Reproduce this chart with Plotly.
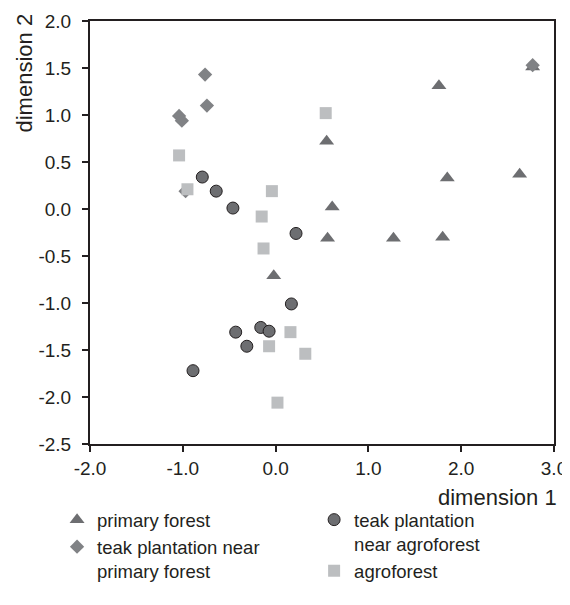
import plotly.graph_objects as go

# ---- data ----
primary_x = [1.76, 0.55, 1.85, 2.63, 0.61, 0.56, 1.27, 1.80, 2.77, -0.02]
primary_y = [1.31, 0.72, 0.33, 0.37, 0.02, -0.31, -0.31, -0.30, 1.51, -0.71]

teak_pf_x = [-0.76, -0.74, -1.04, -1.01, -0.97, 2.77]
teak_pf_y = [1.43, 1.10, 0.99, 0.94, 0.19, 1.53]

teak_af_x = [-0.79, -0.64, -0.46, 0.22, 0.17, -0.43, -0.31, -0.16, -0.07, -0.89]
teak_af_y = [0.34, 0.19, 0.01, -0.26, -1.01, -1.31, -1.46, -1.26, -1.30, -1.72]

agro_x = [-1.04, -0.95, -0.04, -0.15, -0.13, 0.54, 0.16, -0.07, 0.02, 0.32]
agro_y = [0.57, 0.21, 0.19, -0.08, -0.42, 1.02, -1.31, -1.46, -2.06, -1.54]

x_ticks = [-2.0, -1.0, 0.0, 1.0, 2.0, 3.0]
x_ticktext = ["-2.0", "-1.0", "0.0", "1.0", "2.0", "3.0"]
y_ticks = [-2.5, -2.0, -1.5, -1.0, -0.5, 0.0, 0.5, 1.0, 1.5, 2.0]
y_ticktext = ["-2.5", "-2.0", "-1.5", "-1.0", "-0.5", "0.0", "0.5", "1.0", "1.5", "2.0"]

FONT = "Liberation Sans, Arial, sans-serif"
AXIS = "#231f20"

fig = go.Figure()
fig.add_trace(go.Scatter(
    x=primary_x, y=primary_y, mode="markers", name="primary forest",
    marker=dict(symbol="triangle-up", size=13, color="#6d6e71"),
    legend="legend", legendrank=1))
fig.add_trace(go.Scatter(
    x=teak_af_x, y=teak_af_y, mode="markers", name="teak plantation<br>near agroforest",
    marker=dict(symbol="circle", size=12, color="#6d6e71", line=dict(color=AXIS, width=1)),
    legend="legend2", legendrank=1))
fig.add_trace(go.Scatter(
    x=teak_pf_x, y=teak_pf_y, mode="markers", name="teak plantation near<br>primary forest",
    marker=dict(symbol="diamond", size=11, color="#808285"),
    legend="legend", legendrank=2))
fig.add_trace(go.Scatter(
    x=agro_x, y=agro_y, mode="markers", name="agroforest",
    marker=dict(symbol="square", size=12, color="#bcbec0"),
    legend="legend2", legendrank=2))

axis_common = dict(
    showline=True, linecolor=AXIS, linewidth=2, mirror=True,
    ticks="outside", ticklen=6, tickwidth=2, tickcolor=AXIS,
    showgrid=False, zeroline=False, automargin=False, ticklabeloverflow="allow",
    tickfont=dict(family=FONT, size=19, color="#231f20"),
)

legend_common = dict(
    y=-0.135, xanchor="left", yanchor="top", orientation="v",
    valign="top", bgcolor="rgba(0,0,0,0)", itemwidth=30,
    font=dict(family=FONT, size=18.5, color="#231f20"), tracegroupgap=0,
)

fig.update_layout(
    width=562, height=577,
    margin=dict(l=82, r=16, t=13, b=141, autoexpand=False),
    paper_bgcolor="white", plot_bgcolor="white",
    font=dict(family=FONT, color="#231f20"),
    xaxis=dict(range=[-2, 3], tickvals=x_ticks, ticktext=x_ticktext, **axis_common),
    yaxis=dict(range=[-2.5, 2], tickvals=y_ticks, ticktext=y_ticktext,
               ticklabelstandoff=7, **axis_common),
    legend=dict(x=-0.071, **legend_common),
    legend2=dict(x=0.483, **legend_common),
    showlegend=True,
    annotations=[
        dict(text="dimension 1", xref="paper", yref="paper", x=1, y=0,
             xanchor="right", yanchor="middle", xshift=5, yshift=-53,
             showarrow=False, font=dict(family=FONT, size=22, color="#231f20")),
        dict(text="dimension 2", xref="paper", yref="paper", x=0, y=1,
             xanchor="center", yanchor="top", xshift=-66, yshift=9, textangle=-90,
             showarrow=False, font=dict(family=FONT, size=22, color="#231f20")),
    ],
)

fig.write_html("out.html")
